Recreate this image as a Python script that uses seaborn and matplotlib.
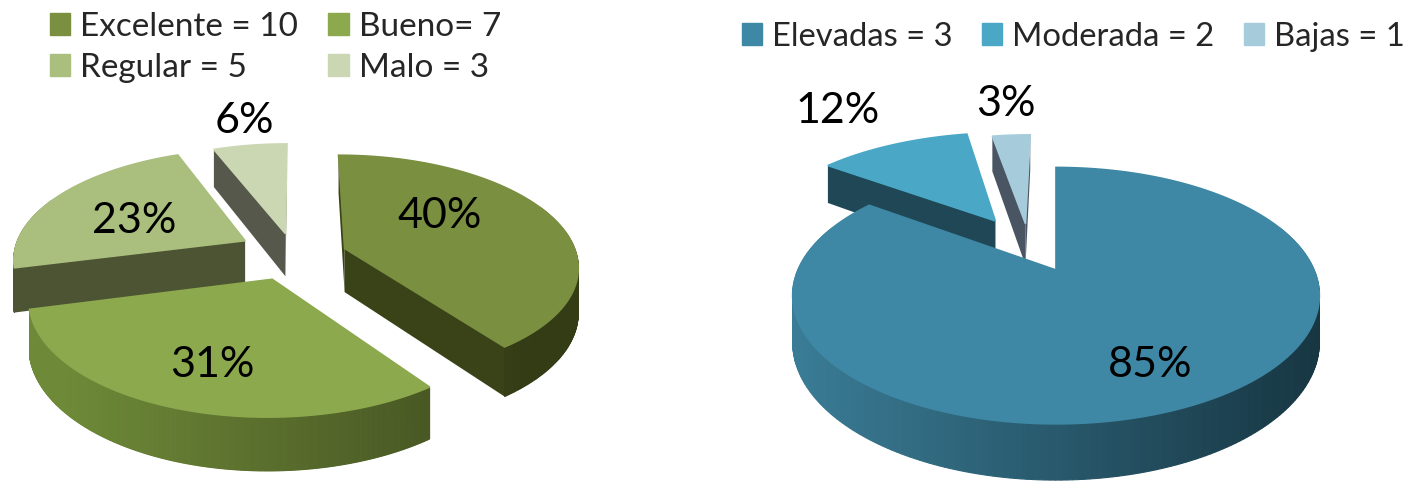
import numpy as np
import matplotlib
matplotlib.use("Agg")
import matplotlib.pyplot as plt
from matplotlib.patches import Patch
import seaborn as sns

# ----------------- DATA -----------------
calidad_labels = ["Excelente = 10", "Bueno= 7", "Regular = 5", "Malo = 3"]
calidad_values = [40, 31, 23, 6]
calidad_colors = ["#7A8F40", "#8DA94E", "#AABF7E", "#CBD7B3"]

exigencia_labels = ["Elevadas = 3", "Moderada = 2", "Bajas = 1"]
exigencia_values = [85, 12, 3]
exigencia_colors = ["#3E88A6", "#4AA8C6", "#A6CCDC"]

# ----------------- LAYOUT -----------------
# shift of each slice on the ground plane, then its side colours (cut face, rim left, rim right)
calidad_shift = [(47, 14), (-25, -50), (-54, 31), (-13, 47)]
calidad_side = [("#3A4318", "#3E4719", "#333C15"),
                ("#5F7A30", "#6E8A38", "#3F4A1E"),
                ("#4D5434", "#4D5434", "#4D5434"),
                ("#55584A", "#55584A", "#55584A")]
calidad_text = [(440, 216), (212, 365), (134, 221), (244, 121)]
calidad_order = [3, 2, 0, 1]

exigencia_shift = [(0, 0), (-66, 112), (-33, 105)]
exigencia_side = [("#1D4655", "#3A7C96", "#173642"),
                  ("#1F4756", "#1F4756", "#1F4756"),
                  ("#4A5563", "#4A5563", "#4A5563")]
exigencia_text = [(1150, 365), (838, 111), (1006, 104)]
exigencia_order = [2, 1, 0]


def project(wx, wy, geo):
    w = 1 + geo["k"] * wy / geo["r"]
    return geo["cx"] + wx / w, geo["cy"] - geo["s"] * wy / w, geo["depth"] / w


def layer(order, i, level):
    return 2 + order.index(i) * 4 + level


def draw_pie3d(ax, values, colors, shifts, sides, order, geo):
    total = sum(values)
    ends = 90 - np.cumsum(values) / total * 360
    starts = np.r_[90, ends[:-1]]
    ramp_size = 256
    for i in order:
        sx, sy = shifts[i]
        ang = np.radians(np.linspace(starts[i], ends[i], 300))
        wx = sx + geo["r"] * np.cos(ang)
        wy = sy + geo["r"] * np.sin(ang)
        x, y, d = project(wx, wy, geo)
        x0, y0, d0 = project(sx, sy, geo)
        cut, left, right = sides[i]

        # cut faces
        for xe, ye, de in [(x[0], y[0], d[0]), (x[-1], y[-1], d[-1])]:
            ax.fill([x0, xe, xe, x0], [y0, ye, ye + de, y0 + d0], color=cut, lw=0, zorder=layer(order, i, 1))

        # rim, shaded from left to right
        ramp = sns.blend_palette([left, right], ramp_size)
        xmin, xmax = geo["cx"] - 1.02 * geo["r"], geo["cx"] + 1.02 * geo["r"]
        for j in range(len(x) - 1):
            if y[j] + d[j] < y0:
                continue
            pos = np.clip((x[j] - xmin) / (xmax - xmin), 0, 1)
            ax.fill([x[j], x[j + 1], x[j + 1], x[j]],
                    [y[j], y[j + 1], y[j + 1] + d[j + 1], y[j] + d[j]],
                    color=ramp[int(pos * (ramp_size - 1))], lw=0.8, zorder=layer(order, i, 2))

        # top face
        ax.fill(np.r_[x0, x], np.r_[y0, y], color=colors[i], lw=1.2, zorder=layer(order, i, 3))


sns.set_theme(style="white")
plt.rcParams['font.family'] = ['Lato', 'DejaVu Sans']

fig, axes = plt.subplots(1, 2, figsize=(14.1, 4.82), dpi=100)
fig.subplots_adjust(left=0, right=1, top=1, bottom=0, wspace=0)

axes[0].set_xlim(0, 705)
axes[1].set_xlim(705, 1410)
for ax in axes:
    ax.set_ylim(482, 0)
    ax.axis("off")

geo_left = {"cx": 298, "cy": 255, "r": 232, "s": 0.47, "k": 0.15, "depth": 44}
geo_right = {"cx": 1056, "cy": 270, "r": 258, "s": 0.477, "k": 0.2, "depth": 45}

draw_pie3d(axes[0], calidad_values, calidad_colors, calidad_shift, calidad_side, calidad_order, geo_left)
draw_pie3d(axes[1], exigencia_values, exigencia_colors, exigencia_shift, exigencia_side, exigencia_order, geo_right)

for ax, values, spots in [(axes[0], calidad_values, calidad_text), (axes[1], exigencia_values, exigencia_text)]:
    for v, (tx, ty) in zip(values, spots):
        ax.text(tx, ty, f"{v}%", fontsize=31, color="black", ha="center", va="center", zorder=40)

# ----------------- LEGENDS -----------------
handles = [Patch(color=c, label=l) for c, l in zip(calidad_colors, calidad_labels)]
# matplotlib fills legend columns first, so swap to read row by row
reordered = [handles[0], handles[2], handles[1], handles[3]]
axes[0].legend(handles=reordered, ncols=2, loc="upper left", bbox_to_anchor=(43, 5), bbox_transform=axes[0].transData,
               frameon=False, fontsize=24, handlelength=0.62, handleheight=0.62, handletextpad=0.3,
               columnspacing=0.9, labelspacing=0.34, borderpad=0.2, borderaxespad=0)

handles = [Patch(color=c, label=l) for c, l in zip(exigencia_colors, exigencia_labels)]
axes[1].legend(handles=handles, ncols=3, loc="upper left", bbox_to_anchor=(735, 15), bbox_transform=axes[1].transData,
               frameon=False, fontsize=23.6, handlelength=0.62, handleheight=0.62, handletextpad=0.3,
               columnspacing=0.9, borderpad=0.2, borderaxespad=0)

plt.savefig("out.png", dpi=100)
plt.close()
